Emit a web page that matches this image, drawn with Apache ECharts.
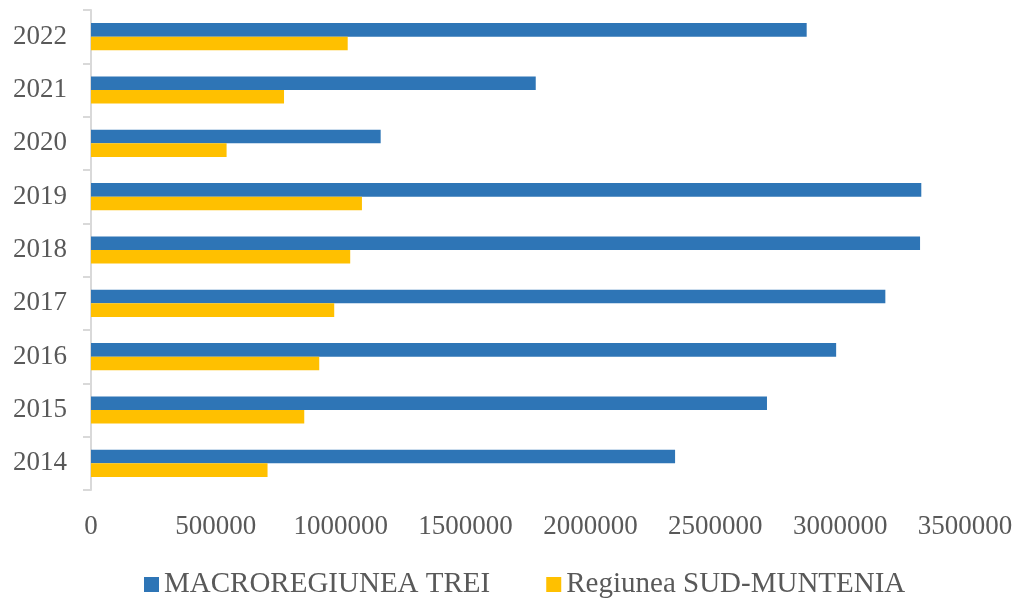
<!DOCTYPE html>
<html>
<head>
<meta charset="utf-8">
<script src="https://cdn.jsdelivr.net/npm/echarts@6/dist/echarts.min.js"></script>
<style>html,body{margin:0;padding:0;background:#fff}#c{width:1018px;height:599px}</style>
</head>
<body>
<div id="c"></div>
<script>
const categories = ['2014','2015','2016','2017','2018','2019','2020','2021','2022'];
const macroregiunea = [2339000, 2707000, 2984000, 3181000, 3320000, 3325000, 1160000, 1781000, 2866000];
const sudMuntenia = [707000, 854000, 914000, 974000, 1038000, 1085000, 543000, 773000, 1028000];
const xTicks = { min: 0, max: 3500000, interval: 500000 };

const font = 'Liberation Serif';
const txt = '#595959';
const chart = echarts.init(document.getElementById('c'));
chart.setOption({
  animation: false,
  grid: { left: 91, right: 53, top: 10, bottom: 109, containLabel: false },
  legend: {
    data: ['MACROREGIUNEA TREI', 'Regiunea SUD-MUNTENIA'],
    left: 139, top: 565,
    itemWidth: 15, itemHeight: 15, itemGap: 56,
    icon: 'rect',
    textStyle: { fontFamily: font, fontSize: 29, color: txt }
  },
  xAxis: {
    type: 'value', min: xTicks.min, max: xTicks.max, interval: xTicks.interval,
    axisLine: { show: false }, axisTick: { show: false }, splitLine: { show: false },
    axisLabel: { fontFamily: font, fontSize: 27, color: txt, margin: 23, formatter: v => String(v) }
  },
  yAxis: {
    type: 'category', data: categories,
    axisLine: { show: true, lineStyle: { color: '#d9d9d9', width: 2 } },
    axisTick: { show: true, length: 8, lineStyle: { color: '#d9d9d9', width: 2 } },
    axisLabel: { fontFamily: font, fontSize: 27, color: txt, margin: 24 }
  },
  series: [
    { name: 'MACROREGIUNEA TREI', type: 'bar', data: macroregiunea, barGap: 0, barCategoryGap: '49%',
      itemStyle: { color: '#2E75B6' } },
    { name: 'Regiunea SUD-MUNTENIA', type: 'bar', data: sudMuntenia, barGap: 0, barCategoryGap: '49%',
      itemStyle: { color: '#FFC000' } }
  ]
});
</script>
</body>
</html>
